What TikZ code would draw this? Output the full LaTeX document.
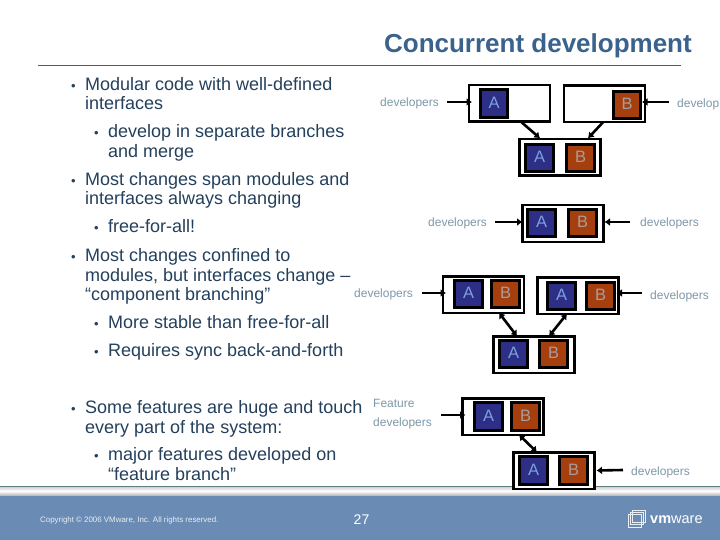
\documentclass[tikz,border=0pt]{standalone}
\usepackage{fontspec}
\setmainfont{Liberation Sans}
\usetikzlibrary{arrows.meta}
\definecolor{bodyc}{HTML}{24405C}
\definecolor{titlec}{HTML}{3A628C}
\definecolor{labelc}{HTML}{7E98A8}
\definecolor{footc}{HTML}{6A8BB4}
\definecolor{afill}{HTML}{2C2F85}
\definecolor{atext}{HTML}{7F9FDC}
\definecolor{bfill}{HTML}{A63F0E}
\definecolor{btext}{HTML}{A89C9C}
\newcommand{\modtxt}[1]{\raisebox{1.5pt}{#1}}
\tikzset{
  bodytext/.style={anchor=base west,inner sep=0pt,text=bodyc,font=\fontsize{18}{20}\selectfont},
  bullet/.style={bodytext,font=\fontsize{13}{14}\selectfont},
  devlabel/.style={anchor=base west,inner sep=0pt,text=labelc,font=\fontsize{12}{14}\selectfont},
  outerbox/.style={draw=black,fill=white,line width=2.5pt,rectangle,minimum width=81pt,minimum height=36.5pt,inner sep=0pt,outer sep=0pt},
  modbox/.style={draw=black,line width=3pt,rectangle,minimum width=27.5pt,minimum height=27.5pt,inner sep=0pt,outer sep=0pt,font=\fontsize{16.5}{18}\selectfont},
  modA/.style={modbox,fill=afill,text=atext},
  modB/.style={modbox,fill=bfill,text=btext},
  arr/.style={draw=black,line width=2.6pt,-{Latex[length=5.5pt,width=8pt]}},
  darr/.style={draw=black,line width=2.6pt,{Latex[length=5.5pt,width=8pt]}-{Latex[length=5.5pt,width=8pt]}}
}
\begin{document}
\begin{tikzpicture}[x=1pt,y=-1pt]
\useasboundingbox (0,0) rectangle (720,540);
% footer
\fill[white] (0,0) rectangle (720,540);
\fill[footc] (0,495) rectangle (720,540);
\fill[gray!75!teal] (0,485.5) rectangle (720,487);
\shade[top color=gray!35,bottom color=white] (0,487) rectangle (720,491);
\shade[top color=white,bottom color=gray!50] (0,491) rectangle (720,495);
% title
\node[anchor=base east,inner sep=0pt,text=titlec,font=\bfseries\fontsize{26}{30}\selectfont] (title) at (692,52.5) {Concurrent development};
\draw[titlec,line width=1.6pt] (38,65.5) -- (681,65.5);
% bullets
\node[bullet] (m1) at (71,91) {•};
\node[bodytext] (t1) at (85,91) {Modular code with well-defined};
\node[bodytext] (t2) at (85,110) {interfaces};
\node[bullet] (m2) at (94,138) {•};
\node[bodytext] (t3) at (108,138) {develop in separate branches};
\node[bodytext] (t4) at (108,158) {and merge};
\node[bullet] (m3) at (71,186) {•};
\node[bodytext] (t5) at (85,186) {Most changes span modules and};
\node[bodytext] (t6) at (85,205) {interfaces always changing};
\node[bullet] (m4) at (94,233) {•};
\node[bodytext] (t7) at (108,233) {free-for-all!};
\node[bullet] (m5) at (71,261) {•};
\node[bodytext] (t8) at (85,261) {Most changes confined to};
\node[bodytext] (t9) at (85,281) {modules, but interfaces change –};
\node[bodytext] (t10) at (85,300) {“component branching”};
\node[bullet] (m6) at (94,328) {•};
\node[bodytext] (t11) at (108,328) {More stable than free-for-all};
\node[bullet] (m7) at (94,356) {•};
\node[bodytext] (t12) at (108,356) {Requires sync back-and-forth};
\node[bullet] (m8) at (71,413) {•};
\node[bodytext] (t13) at (85,413) {Some features are huge and touch};
\node[bodytext] (t14) at (85,433) {every part of the system:};
\node[bullet] (m9) at (94,460) {•};
\node[bodytext] (t15) at (108,460) {major features developed on};
\node[bodytext] (t16) at (108,480) {“feature branch”};
% developer labels
\node[devlabel] (d1) at (380,107) {developers};
\node[devlabel] (d2) at (677,108) {develop};
\node[devlabel] (d3) at (428,226) {developers};
\node[devlabel] (d4) at (640,226) {developers};
\node[devlabel] (d5) at (354,297) {developers};
\node[devlabel] (d6) at (650,299) {developers};
\node[devlabel] (d7) at (373,407) {Feature};
\node[devlabel] (d8) at (373,426) {developers};
\node[devlabel] (d9) at (631,475) {developers};
% outer boxes
\node[outerbox] (b1) at (509.5,103.5) {};
\node[outerbox] (b2) at (604.5,104) {};
\node[outerbox] (b3) at (560,157.5) {};
\node[outerbox] (b4) at (563,223.5) {};
\node[outerbox] (b5) at (483.5,294.5) {};
\node[outerbox] (b6) at (578,295.5) {};
\node[outerbox] (b7) at (534,354.5) {};
\node[outerbox] (b8) at (503,416.5) {};
\node[outerbox] (b9) at (554,470.5) {};
% modules
\node[modA] (a1) at (494,103.5) {\modtxt{A}};
\node[modB] (q2) at (627,105) {\modtxt{B}};
\node[modA] (a3) at (539.5,158) {\modtxt{A}};
\node[modB] (q3) at (580.5,158) {\modtxt{B}};
\node[modA] (a4) at (541.5,223) {\modtxt{A}};
\node[modB] (q4) at (582.5,223) {\modtxt{B}};
\node[modA] (a5) at (468.5,294) {\modtxt{A}};
\node[modB] (q5) at (505.5,294) {\modtxt{B}};
\node[modA] (a6) at (561.5,296) {\modtxt{A}};
\node[modB] (q6) at (600.5,296) {\modtxt{B}};
\node[modA] (a7) at (513.5,354) {\modtxt{A}};
\node[modB] (q7) at (553.5,354) {\modtxt{B}};
\node[modA] (a8) at (488.5,416.5) {\modtxt{A}};
\node[modB] (q8) at (525.5,416.5) {\modtxt{B}};
\node[modA] (a9) at (533.5,470.5) {\modtxt{A}};
\node[modB] (q9) at (573.5,470.5) {\modtxt{B}};
% free arrow ends
\coordinate (c1) at (447,102);
\coordinate (c2) at (669,102);
\coordinate (c4l) at (495,222);
\coordinate (c4r) at (630,222);
\coordinate (c5) at (422,293);
\coordinate (c6) at (642,293);
\coordinate (c8) at (441,415);
\coordinate (c9) at (623,470);
% connectors
\draw[arr] (c1) -- ([xshift=3pt,yshift=1.5pt]b1.west);
\draw[arr] (c2) -- ([xshift=-3pt,yshift=2pt]b2.east);
\draw[arr] ([xshift=11.5pt]b1.south) -- ([xshift=-20pt,yshift=1pt]b3.north);
\draw[arr] ([xshift=-1.5pt]b2.south) -- ([xshift=28pt,yshift=1pt]b3.north);
\draw[arr] (c4l) -- ([yshift=1.5pt]b4.west);
\draw[arr] (c4r) -- ([yshift=1.5pt,xshift=1pt]b4.east);
\draw[arr] (c5) -- ([xshift=3pt,yshift=1.5pt]b5.west);
\draw[arr] (c6) -- ([xshift=-2pt,yshift=2.5pt]b6.east);
\draw[darr] ([xshift=15.5pt]b5.south) -- ([xshift=-17pt]b7.north);
\draw[darr] ([xshift=-11pt]b6.south) -- ([xshift=15pt]b7.north);
\draw[arr] (c8) -- ([xshift=3pt,yshift=1.5pt]b8.west);
\draw[darr] ([xshift=16pt]b8.south) -- ([xshift=-17pt]b9.north);
\draw[arr] (c9) -- ([xshift=2pt]b9.east);
% footer text
\node[anchor=base west,inner sep=0pt,text=white!85!footc,font=\fontsize{7.9}{9}\selectfont] (copy) at (40,522) {Copyright © 2006 VMware, Inc. All rights reserved.};
\node[anchor=base,inner sep=0pt,text=white,font=\fontsize{14}{16}\selectfont] (page) at (361.5,524) {27};
% logo
\draw[white!85!footc,line width=.7pt] (628,514) rectangle (641,527);
\draw[white!85!footc,line width=.7pt] (632,510) rectangle (645,522);
\draw[white!85!footc,line width=.7pt] (630,512) rectangle (643,524);
\node[anchor=base west,inner sep=0pt,text=white,font=\fontsize{14.5}{15}\selectfont] (vm) at (650,523.5) {\textbf{vm}ware};
\end{tikzpicture}
\end{document}
